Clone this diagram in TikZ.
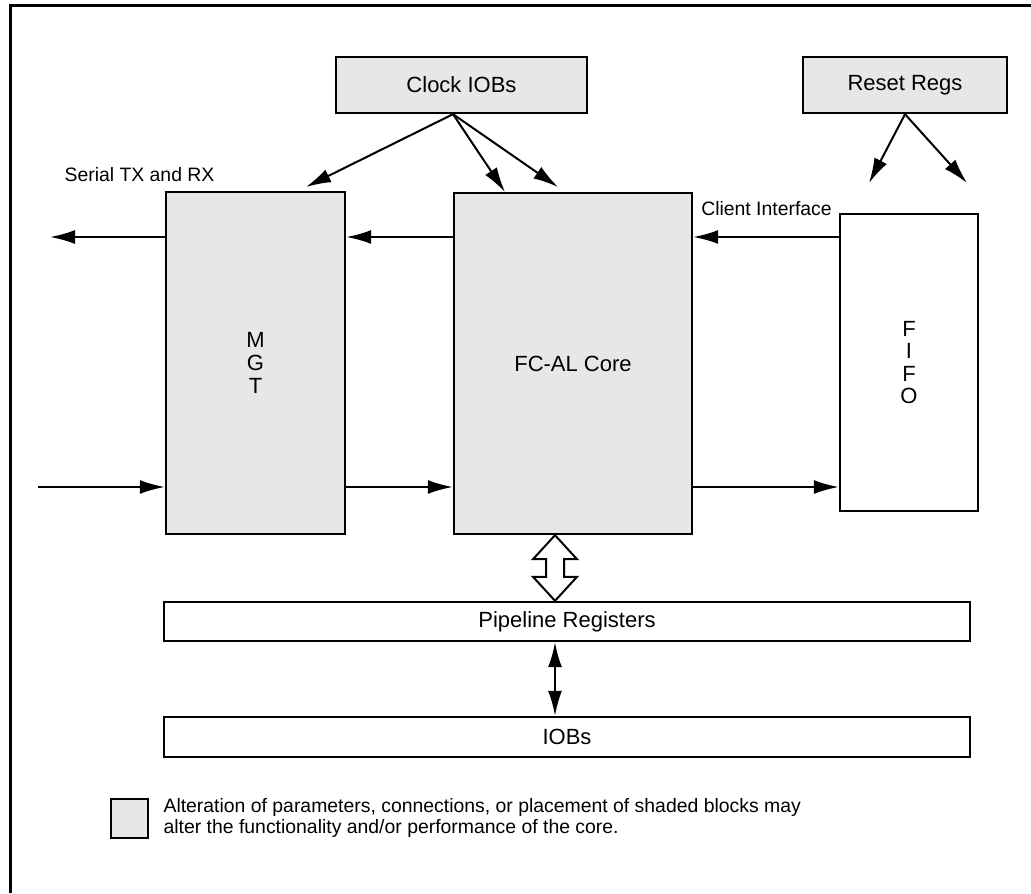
\documentclass[tikz,border=0pt]{standalone}
\usepackage{fontspec}
\setmainfont{Liberation Sans}
\usetikzlibrary{arrows.meta,calc}
\definecolor{shade}{RGB}{230,231,232}

\begin{document}
\begin{tikzpicture}[x=0.5pt,y=-0.5pt,
	block/.style={draw, line width=1.2pt, fill=shade, inner sep=0pt, align=center, font=\fontsize{11}{11.3}\selectfont},
	whiteblock/.style={block, fill=white},
	sig/.style={line width=1pt, -{Latex[length=12.5pt,width=7pt]}},
	lbl/.style={font=\fontsize{9.7}{10.5}\selectfont}]
				\useasboundingbox (0,0) rectangle (1031,893);
				% outer frame, cut at right and bottom
				\draw[line width=1.5pt] (10.5,893) -- (10.5,6) -- (1031,6);

				\node[block, minimum width=125.5pt, minimum height=28pt] (clk) at (461.5,85) {Clock IOBs};
				\node[block, minimum width=102pt, minimum height=28pt] (rst) at (905,85) {Reset Regs};
				\node[block, minimum width=89.5pt, minimum height=171pt] (mgt) at (255.5,363) {M\\G\\T};
				\node[block, minimum width=119pt, minimum height=170.5pt] (core) at (573,363.5) {FC-AL Core};
				\node[whiteblock, minimum width=69pt, minimum height=148.5pt] (fifo) at (909,362.5) {F\\I\\F\\O};
				\node[whiteblock, minimum width=403pt, minimum height=19.5pt] (pipe) at (567,621.5) {Pipeline Registers};
				\node[whiteblock, minimum width=403pt, minimum height=20pt] (iobs) at (567,737) {IOBs};

				\node[lbl] (serial) at (139.5,175) {Serial TX and RX};
				\node[lbl] (client) at (766.5,209) {Client Interface};

				% rows and free ends
				\coordinate (txrow) at (0,237);
				\coordinate (rxrow) at (0,487);
				\coordinate (busx) at (555,0);
				\coordinate (txout) at (50,237);
				\coordinate (rxin) at (38,487);
				\coordinate (mgtclk) at (306,187);
				\coordinate (coreclkA) at (505,192);
				\coordinate (coreclkB) at (558,187);
				\coordinate (fifoclkA) at (869,183);
				\coordinate (fifoclkB) at (967,183);

				% clocks and resets
				\draw[sig] ([xshift=-4.25pt]clk.south) -- (mgtclk);
				\draw[sig] ([xshift=-4.25pt]clk.south) -- (coreclkA);
				\draw[sig] ([xshift=-4.25pt]clk.south) -- (coreclkB);
				\draw[sig] (rst.south) -- (fifoclkA);
				\draw[sig] (rst.south) -- (fifoclkB);

				% data paths
				\draw[sig] (mgt.west |- txrow) -- (txout);
				\draw[sig] (core.west |- txrow) -- (mgt.east |- txrow);
				\draw[sig] (fifo.west |- txrow) -- (core.east |- txrow);
				\draw[sig] (rxin) -- (mgt.west |- rxrow);
				\draw[sig] (mgt.east |- rxrow) -- (core.west |- rxrow);
				\draw[sig] (core.east |- rxrow) -- (fifo.west |- rxrow);

				% bus to pipeline
				\draw[line width=1pt, fill=white] (core.south -| busx) -- ++(22,24) -- ++(-13,0)
					-- ($(pipe.north -| busx)+(9,-24)$) -- ++(13,0) -- (pipe.north -| busx)
					-- ++(-22,-24) -- ++(13,0) -- ($(core.south -| busx)+(-9,24)$) -- ++(-13,0) -- cycle;
				\draw[line width=1pt, {Latex[length=12.5pt,width=7pt]}-{Latex[length=12.5pt,width=7pt]}] (pipe.south -| busx) -- (iobs.north -| busx);

				% legend
				\node[block, minimum width=18.5pt, minimum height=19.5pt] (key) at (129.5,818.5) {};
				\node[lbl, anchor=west, align=left] (keytext) at (156.5,818) {Alteration of parameters, connections, or placement of shaded blocks may\\alter the functionality and/or performance of the core.};
			\end{tikzpicture}
\end{document}
